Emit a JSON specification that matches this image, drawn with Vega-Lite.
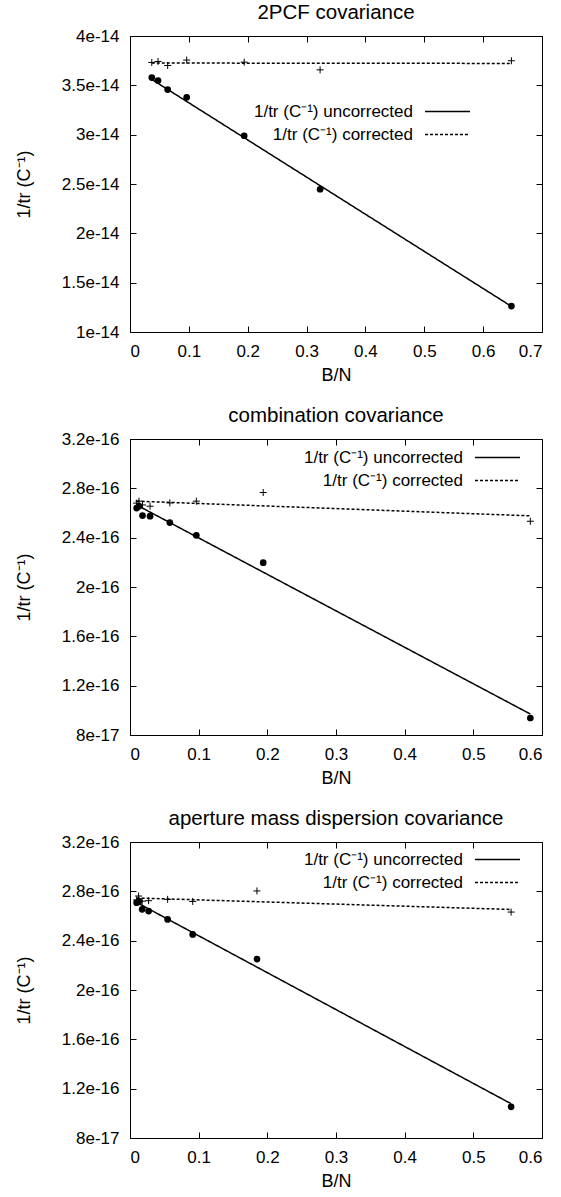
{
  "$schema": "https://vega.github.io/schema/vega-lite/v6.json",
  "autosize": {"type": "pad"},
  "padding": {"left": 14, "top": 2, "right": 0, "bottom": 0},
  "background": "white",
  "spacing": 20,
  "datasets": {
    "p1": [
      {"bn": 0.037, "v": 3.579e-14, "s": "uncorrected"},
      {"bn": 0.0476, "v": 3.549e-14, "s": "uncorrected"},
      {"bn": 0.064, "v": 3.457e-14, "s": "uncorrected"},
      {"bn": 0.0963, "v": 3.379e-14, "s": "uncorrected"},
      {"bn": 0.194, "v": 2.989e-14, "s": "uncorrected"},
      {"bn": 0.323, "v": 2.447e-14, "s": "uncorrected"},
      {"bn": 0.648, "v": 1.263e-14, "s": "uncorrected"},
      {"bn": 0.037, "v": 3.732e-14, "s": "corrected"},
      {"bn": 0.0476, "v": 3.742e-14, "s": "corrected"},
      {"bn": 0.064, "v": 3.701e-14, "s": "corrected"},
      {"bn": 0.0963, "v": 3.756e-14, "s": "corrected"},
      {"bn": 0.194, "v": 3.735e-14, "s": "corrected"},
      {"bn": 0.323, "v": 3.657e-14, "s": "corrected"},
      {"bn": 0.648, "v": 3.749e-14, "s": "corrected"}
    ],
    "f1": [
      {"bn": 0.037, "v": 3.56e-14, "s": "uncorrected"},
      {"bn": 0.648, "v": 1.26e-14, "s": "uncorrected"},
      {"bn": 0.037, "v": 3.726e-14, "s": "corrected"},
      {"bn": 0.648, "v": 3.722e-14, "s": "corrected"}
    ],
    "p2": [
      {"bn": 0.0097, "v": 2.64e-16, "s": "uncorrected"},
      {"bn": 0.013, "v": 2.655e-16, "s": "uncorrected"},
      {"bn": 0.0182, "v": 2.579e-16, "s": "uncorrected"},
      {"bn": 0.0292, "v": 2.574e-16, "s": "uncorrected"},
      {"bn": 0.058, "v": 2.522e-16, "s": "uncorrected"},
      {"bn": 0.0966, "v": 2.419e-16, "s": "uncorrected"},
      {"bn": 0.194, "v": 2.197e-16, "s": "uncorrected"},
      {"bn": 0.583, "v": 9.38e-17, "s": "uncorrected"},
      {"bn": 0.0097, "v": 2.68e-16, "s": "corrected"},
      {"bn": 0.013, "v": 2.696e-16, "s": "corrected"},
      {"bn": 0.0182, "v": 2.665e-16, "s": "corrected"},
      {"bn": 0.0292, "v": 2.655e-16, "s": "corrected"},
      {"bn": 0.058, "v": 2.682e-16, "s": "corrected"},
      {"bn": 0.0966, "v": 2.696e-16, "s": "corrected"},
      {"bn": 0.194, "v": 2.766e-16, "s": "corrected"},
      {"bn": 0.583, "v": 2.533e-16, "s": "corrected"}
    ],
    "f2": [
      {"bn": 0.0097, "v": 2.665e-16, "s": "uncorrected"},
      {"bn": 0.583, "v": 9.7e-17, "s": "uncorrected"},
      {"bn": 0.0097, "v": 2.696e-16, "s": "corrected"},
      {"bn": 0.583, "v": 2.577e-16, "s": "corrected"}
    ],
    "p3": [
      {"bn": 0.0097, "v": 2.708e-16, "s": "uncorrected"},
      {"bn": 0.013, "v": 2.72e-16, "s": "uncorrected"},
      {"bn": 0.0177, "v": 2.654e-16, "s": "uncorrected"},
      {"bn": 0.0271, "v": 2.64e-16, "s": "uncorrected"},
      {"bn": 0.0548, "v": 2.572e-16, "s": "uncorrected"},
      {"bn": 0.0913, "v": 2.451e-16, "s": "uncorrected"},
      {"bn": 0.1849, "v": 2.251e-16, "s": "uncorrected"},
      {"bn": 0.555, "v": 1.053e-16, "s": "uncorrected"},
      {"bn": 0.0097, "v": 2.73e-16, "s": "corrected"},
      {"bn": 0.0125, "v": 2.762e-16, "s": "corrected"},
      {"bn": 0.0177, "v": 2.72e-16, "s": "corrected"},
      {"bn": 0.0271, "v": 2.724e-16, "s": "corrected"},
      {"bn": 0.0548, "v": 2.735e-16, "s": "corrected"},
      {"bn": 0.0913, "v": 2.718e-16, "s": "corrected"},
      {"bn": 0.1849, "v": 2.803e-16, "s": "corrected"},
      {"bn": 0.555, "v": 2.632e-16, "s": "corrected"}
    ],
    "f3": [
      {"bn": 0.0097, "v": 2.71e-16, "s": "uncorrected"},
      {"bn": 0.555, "v": 1.078e-16, "s": "uncorrected"},
      {"bn": 0.0097, "v": 2.746e-16, "s": "corrected"},
      {"bn": 0.555, "v": 2.653e-16, "s": "corrected"}
    ]
  },
  "vconcat": [
    {
      "width": 412, "height": 296,
      "title": {"text": "2PCF covariance"},
      "resolve": {"axis": {"x": "independent", "y": "independent"}},
      "layer": [
        {
          "data": {"name": "p1"},
          "transform": [{"filter": "datum.s === 'uncorrected'"}],
          "mark": {"type": "point", "shape": "circle", "filled": true, "color": "black", "opacity": 1, "size": 45},
          "encoding": {
            "x": {"field": "bn", "type": "quantitative", "scale": {"domain": [0, 0.7], "nice": false, "zero": false},
                  "axis": {"orient": "bottom", "values": [0, 0.1, 0.2, 0.3, 0.4, 0.5, 0.6, 0.7], "format": "~g", "title": "B/N"}},
            "y": {"field": "v", "type": "quantitative", "scale": {"domain": [1e-14, 4e-14], "nice": false, "zero": false},
                  "axis": {"orient": "left", "values": [1e-14, 1.5e-14, 2e-14, 2.5e-14, 3e-14, 3.5e-14, 4e-14], "format": ".2~e", "title": "1/tr (C⁻¹)"}}
          }
        },
        {
          "data": {"name": "p1"},
          "transform": [{"filter": "datum.s === 'corrected'"}],
          "mark": {"type": "point", "shape": "M-1,0H1M0,-1V1", "filled": false, "color": "black", "opacity": 1, "size": 49, "strokeWidth": 1},
          "encoding": {
            "x": {"field": "bn", "type": "quantitative", "scale": {"domain": [0, 0.7], "nice": false, "zero": false},
                  "axis": {"orient": "top", "labels": false, "title": null, "values": [0, 0.1, 0.2, 0.3, 0.4, 0.5, 0.6, 0.7]}},
            "y": {"field": "v", "type": "quantitative", "scale": {"domain": [1e-14, 4e-14], "nice": false, "zero": false},
                  "axis": {"orient": "right", "labels": false, "title": null, "values": [1e-14, 1.5e-14, 2e-14, 2.5e-14, 3e-14, 3.5e-14, 4e-14]}}
          }
        },
        {
          "data": {"name": "f1"},
          "mark": {"type": "line", "color": "black", "strokeWidth": 1.5},
          "encoding": {
            "x": {"field": "bn", "type": "quantitative", "scale": {"domain": [0, 0.7], "nice": false, "zero": false}, "axis": null},
            "y": {"field": "v", "type": "quantitative", "scale": {"domain": [1e-14, 4e-14], "nice": false, "zero": false}, "axis": null},
            "strokeDash": {"field": "s", "type": "nominal", "scale": {"domain": ["uncorrected", "corrected"], "range": [[1, 0], [3, 2]]},
                           "legend": {"orient": "none", "legendX": 309, "legendY": 67, "symbolType": "M-4.5,0H4.5", "symbolSize": 100, "labelExpr": "'1/tr (C⁻¹) ' + datum.label"}}
          }
        }
      ]
    },
    {
      "width": 412, "height": 296,
      "title": {"text": "combination covariance"},
      "resolve": {"axis": {"x": "independent", "y": "independent"}},
      "layer": [
        {
          "data": {"name": "p2"},
          "transform": [{"filter": "datum.s === 'uncorrected'"}],
          "mark": {"type": "point", "shape": "circle", "filled": true, "color": "black", "opacity": 1, "size": 45},
          "encoding": {
            "x": {"field": "bn", "type": "quantitative", "scale": {"domain": [0, 0.6], "nice": false, "zero": false},
                  "axis": {"orient": "bottom", "values": [0, 0.1, 0.2, 0.3, 0.4, 0.5, 0.6], "format": "~g", "title": "B/N"}},
            "y": {"field": "v", "type": "quantitative", "scale": {"domain": [8e-17, 3.2e-16], "nice": false, "zero": false},
                  "axis": {"orient": "left", "values": [8e-17, 1.2e-16, 1.6e-16, 2e-16, 2.4e-16, 2.8e-16, 3.2e-16], "format": ".2~e", "title": "1/tr (C⁻¹)"}}
          }
        },
        {
          "data": {"name": "p2"},
          "transform": [{"filter": "datum.s === 'corrected'"}],
          "mark": {"type": "point", "shape": "M-1,0H1M0,-1V1", "filled": false, "color": "black", "opacity": 1, "size": 49, "strokeWidth": 1},
          "encoding": {
            "x": {"field": "bn", "type": "quantitative", "scale": {"domain": [0, 0.6], "nice": false, "zero": false},
                  "axis": {"orient": "top", "labels": false, "title": null, "values": [0, 0.1, 0.2, 0.3, 0.4, 0.5, 0.6]}},
            "y": {"field": "v", "type": "quantitative", "scale": {"domain": [8e-17, 3.2e-16], "nice": false, "zero": false},
                  "axis": {"orient": "right", "labels": false, "title": null, "values": [8e-17, 1.2e-16, 1.6e-16, 2e-16, 2.4e-16, 2.8e-16, 3.2e-16]}}
          }
        },
        {
          "data": {"name": "f2"},
          "mark": {"type": "line", "color": "black", "strokeWidth": 1.5},
          "encoding": {
            "x": {"field": "bn", "type": "quantitative", "scale": {"domain": [0, 0.6], "nice": false, "zero": false}, "axis": null},
            "y": {"field": "v", "type": "quantitative", "scale": {"domain": [8e-17, 3.2e-16], "nice": false, "zero": false}, "axis": null},
            "strokeDash": {"field": "s", "type": "nominal", "scale": {"domain": ["uncorrected", "corrected"], "range": [[1, 0], [3, 2]]},
                           "legend": {"orient": "none", "legendX": 359, "legendY": 10, "symbolType": "M-4.5,0H4.5", "symbolSize": 100, "labelExpr": "'1/tr (C⁻¹) ' + datum.label"}}
          }
        }
      ]
    },
    {
      "width": 412, "height": 296,
      "title": {"text": "aperture mass dispersion covariance"},
      "resolve": {"axis": {"x": "independent", "y": "independent"}},
      "layer": [
        {
          "data": {"name": "p3"},
          "transform": [{"filter": "datum.s === 'uncorrected'"}],
          "mark": {"type": "point", "shape": "circle", "filled": true, "color": "black", "opacity": 1, "size": 45},
          "encoding": {
            "x": {"field": "bn", "type": "quantitative", "scale": {"domain": [0, 0.6], "nice": false, "zero": false},
                  "axis": {"orient": "bottom", "values": [0, 0.1, 0.2, 0.3, 0.4, 0.5, 0.6], "format": "~g", "title": "B/N"}},
            "y": {"field": "v", "type": "quantitative", "scale": {"domain": [8e-17, 3.2e-16], "nice": false, "zero": false},
                  "axis": {"orient": "left", "values": [8e-17, 1.2e-16, 1.6e-16, 2e-16, 2.4e-16, 2.8e-16, 3.2e-16], "format": ".2~e", "title": "1/tr (C⁻¹)"}}
          }
        },
        {
          "data": {"name": "p3"},
          "transform": [{"filter": "datum.s === 'corrected'"}],
          "mark": {"type": "point", "shape": "M-1,0H1M0,-1V1", "filled": false, "color": "black", "opacity": 1, "size": 49, "strokeWidth": 1},
          "encoding": {
            "x": {"field": "bn", "type": "quantitative", "scale": {"domain": [0, 0.6], "nice": false, "zero": false},
                  "axis": {"orient": "top", "labels": false, "title": null, "values": [0, 0.1, 0.2, 0.3, 0.4, 0.5, 0.6]}},
            "y": {"field": "v", "type": "quantitative", "scale": {"domain": [8e-17, 3.2e-16], "nice": false, "zero": false},
                  "axis": {"orient": "right", "labels": false, "title": null, "values": [8e-17, 1.2e-16, 1.6e-16, 2e-16, 2.4e-16, 2.8e-16, 3.2e-16]}}
          }
        },
        {
          "data": {"name": "f3"},
          "mark": {"type": "line", "color": "black", "strokeWidth": 1.5},
          "encoding": {
            "x": {"field": "bn", "type": "quantitative", "scale": {"domain": [0, 0.6], "nice": false, "zero": false}, "axis": null},
            "y": {"field": "v", "type": "quantitative", "scale": {"domain": [8e-17, 3.2e-16], "nice": false, "zero": false}, "axis": null},
            "strokeDash": {"field": "s", "type": "nominal", "scale": {"domain": ["uncorrected", "corrected"], "range": [[1, 0], [3, 2]]},
                           "legend": {"orient": "none", "legendX": 359, "legendY": 9, "symbolType": "M-4.5,0H4.5", "symbolSize": 100, "labelExpr": "'1/tr (C⁻¹) ' + datum.label"}}
          }
        }
      ]
    }
  ],
  "resolve": {"scale": {"strokeDash": "independent"}, "legend": {"strokeDash": "independent"}},
  "config": {
    "font": "Liberation Sans",
    "view": {"stroke": "black", "strokeWidth": 1},
    "axis": {
      "domain": false, "grid": false, "ticks": true, "tickColor": "black", "tickSize": -6, "tickWidth": 1,
      "labelFont": "Liberation Sans", "labelFontSize": 17, "labelColor": "black", "labelPadding": 17,
      "titleFont": "Liberation Sans", "titleFontSize": 18, "titleFontWeight": "normal", "titleColor": "black"
    },
    "axisX": {"titlePadding": 7, "labelPadding": 17},
    "axisY": {"titlePadding": 28},
    "legend": {
      "title": null, "padding": 0, "symbolType": "M-4.5,0H4.5", "symbolSize": 100, "symbolStrokeWidth": 1.5,
      "symbolStrokeColor": "black", "labelAlign": "right", "labelOffset": -43, "labelFontSize": 17,
      "labelFont": "Liberation Sans", "labelColor": "black", "labelLimit": 0, "rowPadding": 5
    },
    "title": {"font": "Liberation Sans", "fontSize": 20.5, "fontWeight": "normal", "color": "black", "baseline": "alphabetic", "offset": 4}
  }
}
